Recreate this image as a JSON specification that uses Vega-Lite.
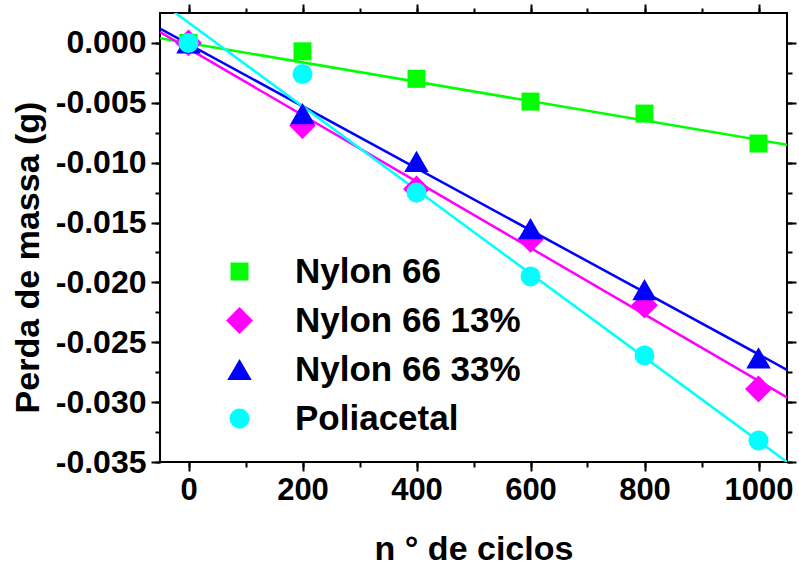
{
  "$schema": "https://vega.github.io/schema/vega-lite/v6.json",
  "width": 627,
  "height": 449,
  "autosize": "none",
  "padding": {"left": 160, "top": 13, "right": 12, "bottom": 105},
  "config": {
    "font": "Liberation Sans",
    "view": {"stroke": "black", "strokeWidth": 2},
    "axis": {"grid": false, "domain": false, "tickColor": "black", "tickWidth": 2, "labelColor": "black", "titleColor": "black", "labelFont": "Liberation Sans", "titleFont": "Liberation Sans", "labelFontWeight": "bold", "titleFontWeight": "bold"}
  },
  "datasets": {
    "pts": [
      {"ciclos": 0, "perda": 0.0, "serie": "Nylon 66"},
      {"ciclos": 200, "perda": -0.0007, "serie": "Nylon 66"},
      {"ciclos": 400, "perda": -0.0030, "serie": "Nylon 66"},
      {"ciclos": 600, "perda": -0.0049, "serie": "Nylon 66"},
      {"ciclos": 800, "perda": -0.0059, "serie": "Nylon 66"},
      {"ciclos": 1000, "perda": -0.0084, "serie": "Nylon 66"},
      {"ciclos": 0, "perda": 0.0, "serie": "Nylon 66 13%"},
      {"ciclos": 200, "perda": -0.0069, "serie": "Nylon 66 13%"},
      {"ciclos": 400, "perda": -0.0122, "serie": "Nylon 66 13%"},
      {"ciclos": 600, "perda": -0.0164, "serie": "Nylon 66 13%"},
      {"ciclos": 800, "perda": -0.0219, "serie": "Nylon 66 13%"},
      {"ciclos": 1000, "perda": -0.0289, "serie": "Nylon 66 13%"},
      {"ciclos": 0, "perda": 0.0, "serie": "Nylon 66 33%"},
      {"ciclos": 200, "perda": -0.0059, "serie": "Nylon 66 33%"},
      {"ciclos": 400, "perda": -0.0099, "serie": "Nylon 66 33%"},
      {"ciclos": 600, "perda": -0.0155, "serie": "Nylon 66 33%"},
      {"ciclos": 800, "perda": -0.0206, "serie": "Nylon 66 33%"},
      {"ciclos": 1000, "perda": -0.0263, "serie": "Nylon 66 33%"},
      {"ciclos": 0, "perda": 0.0, "serie": "Poliacetal"},
      {"ciclos": 200, "perda": -0.0026, "serie": "Poliacetal"},
      {"ciclos": 400, "perda": -0.0125, "serie": "Poliacetal"},
      {"ciclos": 600, "perda": -0.0195, "serie": "Poliacetal"},
      {"ciclos": 800, "perda": -0.0261, "serie": "Poliacetal"},
      {"ciclos": 1000, "perda": -0.0332, "serie": "Poliacetal"}
    ],
    "fits": [
      {"ciclos": -50, "perda": 0.0004, "serie": "Nylon 66"},
      {"ciclos": 1050, "perda": -0.0085, "serie": "Nylon 66"},
      {"ciclos": -50, "perda": 0.0009, "serie": "Nylon 66 13%"},
      {"ciclos": 1050, "perda": -0.0296, "serie": "Nylon 66 13%"},
      {"ciclos": -50, "perda": 0.0012, "serie": "Nylon 66 33%"},
      {"ciclos": 1050, "perda": -0.0273, "serie": "Nylon 66 33%"},
      {"ciclos": -50, "perda": 0.00345, "serie": "Poliacetal"},
      {"ciclos": 1050, "perda": -0.035, "serie": "Poliacetal"}
    ]
  },
  "resolve": {"axis": {"x": "independent", "y": "independent"}},
  "layer": [
    {
      "data": {"name": "fits"},
      "mark": {"type": "line", "strokeWidth": 2.5, "clip": true},
      "encoding": {
        "x": {"field": "ciclos", "type": "quantitative", "scale": {"domain": [-50, 1050], "nice": false, "zero": false},
          "axis": {"orient": "bottom", "values": [0, 200, 400, 600, 800, 1000], "format": "d", "tickSize": 9, "labelFontSize": 31, "labelPadding": 4, "title": "n ° de ciclos", "titleFontSize": 34, "titleX": 313.5, "titleY": 97, "titleBaseline": "alphabetic", "titleAnchor": "middle", "titleAlign": "center"}},
        "y": {"field": "perda", "type": "quantitative", "scale": {"domain": [-0.035, 0.0025], "nice": false, "zero": false},
          "axis": {"orient": "left", "values": [-0.035, -0.03, -0.025, -0.02, -0.015, -0.01, -0.005, 0], "tickSize": 9, "labelFontSize": 32, "labelPadding": 5, "labelExpr": "replace(format(datum.value, '.3f'), '\u2212', '-')", "title": "Perda de massa (g)", "titleFontSize": 34, "titleAngle": -90, "titleX": -132, "titleY": 244, "titleAlign": "center", "titleBaseline": "middle"}},
        "stroke": {"field": "serie", "type": "nominal", "legend": null,
          "scale": {"range": ["#00ff00", "#ff00ff", "#0000ff", "#00ffff"]}},
        "detail": {"field": "serie", "type": "nominal"}
      }
    },
    {
      "data": {"name": "pts"},
      "mark": {"type": "point", "filled": true, "opacity": 1},
      "encoding": {
        "x": {"field": "ciclos", "type": "quantitative", "scale": {"domain": [-50, 1050], "nice": false, "zero": false},
          "axis": {"orient": "bottom", "values": [0, 100, 200, 300, 400, 500, 600, 700, 800, 900, 1000], "tickSize": 5, "labels": false, "title": null}},
        "y": {"field": "perda", "type": "quantitative", "scale": {"domain": [-0.035, 0.0025], "nice": false, "zero": false},
          "axis": {"orient": "left", "values": [-0.035, -0.0325, -0.03, -0.0275, -0.025, -0.0225, -0.02, -0.0175, -0.015, -0.0125, -0.01, -0.0075, -0.005, -0.0025, 0], "tickSize": 5, "labels": false, "title": null}},
        "color": {"field": "serie", "type": "nominal",
          "scale": {"domain": ["Nylon 66", "Nylon 66 13%", "Nylon 66 33%", "Poliacetal"], "range": ["#00ff00", "#ff00ff", "#0000ff", "#00ffff"]},
          "legend": {"orient": "none", "legendX": 62, "legendY": 241, "title": null, "symbolStrokeWidth": 0, "labelFontSize": 35, "labelFontWeight": "bold", "labelFont": "Liberation Sans", "labelColor": "black", "labelOffset": 38, "rowPadding": 13, "padding": 0, "labelLimit": 400}},
        "shape": {"field": "serie", "type": "nominal",
          "scale": {"domain": ["Nylon 66", "Nylon 66 13%", "Nylon 66 33%", "Poliacetal"], "range": ["square", "diamond", "triangle-up", "circle"]}},
        "size": {"field": "serie", "type": "nominal",
          "scale": {"type": "ordinal", "domain": ["Nylon 66", "Nylon 66 13%", "Nylon 66 33%", "Poliacetal"], "range": [324, 720, 600, 400]}}
      }
    },
    {
      "data": {"name": "pts"},
      "mark": {"type": "point", "opacity": 0},
      "encoding": {
        "x": {"field": "ciclos", "type": "quantitative", "scale": {"domain": [-50, 1050], "nice": false, "zero": false},
          "axis": {"orient": "top", "values": [0, 200, 400, 600, 800, 1000], "tickSize": 9, "labels": false, "title": null}},
        "y": {"field": "perda", "type": "quantitative", "scale": {"domain": [-0.035, 0.0025], "nice": false, "zero": false},
          "axis": {"orient": "right", "values": [-0.035, -0.03, -0.025, -0.02, -0.015, -0.01, -0.005, 0], "tickSize": 9, "labels": false, "title": null}}
      }
    },
    {
      "data": {"name": "pts"},
      "mark": {"type": "point", "opacity": 0},
      "encoding": {
        "x": {"field": "ciclos", "type": "quantitative", "scale": {"domain": [-50, 1050], "nice": false, "zero": false},
          "axis": {"orient": "top", "values": [0, 100, 200, 300, 400, 500, 600, 700, 800, 900, 1000], "tickSize": 5, "labels": false, "title": null}},
        "y": {"field": "perda", "type": "quantitative", "scale": {"domain": [-0.035, 0.0025], "nice": false, "zero": false},
          "axis": {"orient": "right", "values": [-0.035, -0.0325, -0.03, -0.0275, -0.025, -0.0225, -0.02, -0.0175, -0.015, -0.0125, -0.01, -0.0075, -0.005, -0.0025, 0], "tickSize": 5, "labels": false, "title": null}}
      }
    }
  ]
}
